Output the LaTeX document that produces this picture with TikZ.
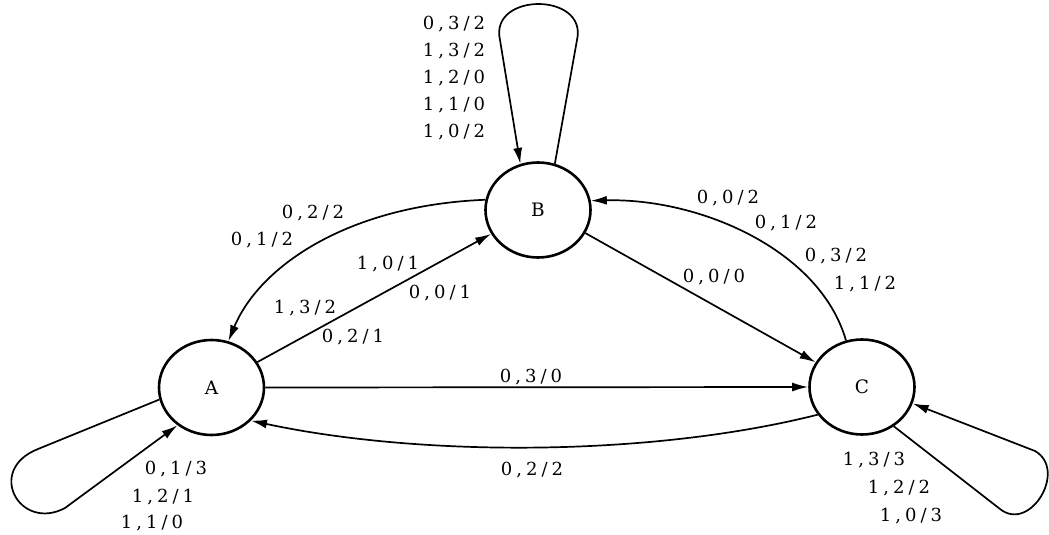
\documentclass[tikz,border=0pt]{standalone}
\usepackage{fontspec}
\setmainfont{DejaVu Serif}
\usetikzlibrary{arrows.meta,shapes.geometric}
\def\sp#1{\spA#1\relax}
\def\spA#1{\ifx#1\relax\unkern\else#1\kern4pt\expandafter\spA\fi}
\begin{document}
\begin{tikzpicture}[x=1pt,y=-1pt,
  state/.style={draw, ellipse, line width=2.6pt, minimum width=105pt, minimum height=95pt, inner sep=0pt, font=\fontsize{18.5}{22}\selectfont},
  edge/.style={line width=1.7pt, -{Latex[length=16pt,width=9pt]}},
  lbl/.style={font=\fontsize{18}{27}\selectfont, inner sep=0pt, align=center}]
\useasboundingbox (0,0) rectangle (1049,535);
\node[state] (A) at (211.5,387.5) {A};
\node[state] (B) at (538,210) {B};
\node[state] (C) at (862,387) {C};
% loops
\draw[edge] (A.193) -- (38,449) .. controls (-15,470) and (20,532) .. (65,508) -- (A.228);
\draw[edge] (B.70) -- (577,40) .. controls (588,-8) and (489,-8) .. (500,40) -- (B.111);
\draw[edge] (C.309) -- (1000,509) .. controls (1030,533) and (1068,470) .. (1035,451) -- (C.342);
% edges
\draw[edge] (B.169) .. controls (350,205) and (260,265) .. (A.70);
\draw[edge] (A.29) -- (B.207);
\draw[edge] (B.334) -- (C.152);
\draw[edge] (C.109) .. controls (820,250) and (700,198) .. (B.10);
\draw[edge] (A.0) -- (C.180);
\draw[edge] (C.212) .. controls (650,457) and (420,457) .. (A.320);
% labels
\node[lbl] (lb) at (454,78) {\sp{0,3/2}\\\sp{1,3/2}\\\sp{1,2/0}\\\sp{1,1/0}\\\sp{1,0/2}};
\node[lbl] (l1) at (313,213) {\sp{0,2/2}};
\node[lbl] (l2) at (262,240) {\sp{0,1/2}};
\node[lbl] (l3) at (388,264) {\sp{1,0/1}};
\node[lbl] (l4) at (440,293) {\sp{0,0/1}};
\node[lbl] (l5) at (305,308) {\sp{1,3/2}};
\node[lbl] (l6) at (353,337) {\sp{0,2/1}};
\node[lbl] (l7) at (728,198) {\sp{0,0/2}};
\node[lbl] (l8) at (786,223) {\sp{0,1/2}};
\node[lbl] (l9) at (836,256) {\sp{0,3/2}};
\node[lbl] (l10) at (865,284) {\sp{1,1/2}};
\node[lbl] (l11) at (714,277) {\sp{0,0/0}};
\node[lbl] (l12) at (531,377) {\sp{0,3/0}};
\node[lbl] (l13) at (532,470) {\sp{0,2/2}};
\node[lbl] (l14) at (176,469) {\sp{0,1/3}};
\node[lbl] (l15) at (163,497) {\sp{1,2/1}};
\node[lbl] (l16) at (152,523) {\sp{1,1/0}};
\node[lbl] (l17) at (874,460) {\sp{1,3/3}};
\node[lbl] (l18) at (899,488) {\sp{1,2/2}};
\node[lbl] (l19) at (911,516) {\sp{1,0/3}};
\end{tikzpicture}
\end{document}
